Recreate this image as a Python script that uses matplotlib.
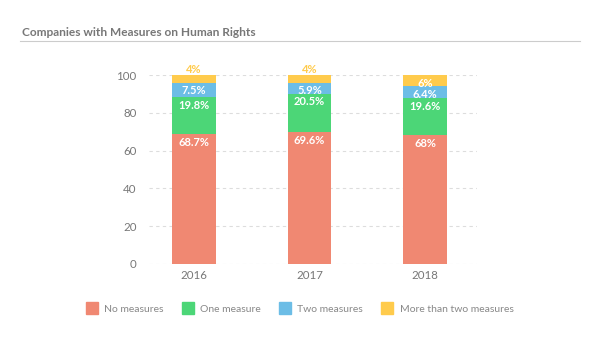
import matplotlib.pyplot as plt
import numpy as np

plt.rcParams['font.family'] = ['Lato', 'DejaVu Sans']

years = ['2016', '2017', '2018']
series_names = ['No measures', 'One measure', 'Two measures', 'More than two measures']
no_measures = [68.7, 69.6, 68]
one_measure = [19.8, 20.5, 19.6]
two_measures = [7.5, 5.9, 6.4]
more_measures = [4, 4, 6]
labels = [['68.7%', '69.6%', '68%'],
          ['19.8%', '20.5%', '19.6%'],
          ['7.5%', '5.9%', '6.4%'],
          ['4%', '4%', '6%']]
colors = ['#F08872', '#4CD677', '#6CBDE6', '#FFCB4C']

fig = plt.figure(figsize=(6, 3.5), dpi=100)
ax = fig.add_axes([149 / 600, 1 - 264 / 350, 328 / 600, 189 / 350])

x = np.arange(len(years))
data = [no_measures, one_measure, two_measures, more_measures]
bottom = np.zeros(len(years))
for k, vals in enumerate(data):
    vals = np.array(vals)
    ax.bar(x, vals, bottom=bottom, width=0.38, color=colors[k], zorder=3)
    tops = bottom + vals
    for i in range(len(years)):
        if vals[i] < 5:
            # small segment: label sits above the bar
            ax.annotate(labels[k][i], (x[i], tops[i]), xytext=(0, 0),
                        textcoords='offset points', ha='center', va='bottom',
                        color=colors[k], fontsize=8, fontweight='bold')
        else:
            ax.annotate(labels[k][i], (x[i], tops[i]), xytext=(0, -2),
                        textcoords='offset points', ha='center', va='top',
                        color='white', fontsize=8, fontweight='bold')
    bottom = tops

ax.set_xlim(-0.39, 2.45)
ax.set_ylim(0, 100)
ax.set_yticks([0, 20, 40, 60, 80, 100])
ax.set_xticks(x)
ax.set_xticklabels(years)
ax.yaxis.grid(True, linestyle=(0, (3, 3)), color='#dddddd', linewidth=0.8, zorder=0)
for s in ax.spines.values():
    s.set_visible(False)
ax.tick_params(length=0, colors='#777777', labelsize=8.3)
ax.tick_params(axis='y', pad=9)
ax.tick_params(axis='x', pad=4)

fig.text(22 / 600, 1 - 32 / 350, 'Companies with Measures on Human Rights',
         fontsize=8.6, fontweight='bold', color='#777777', va='center')
fig.add_artist(plt.Line2D([20 / 600, 580 / 600], [1 - 41 / 350, 1 - 41 / 350],
                          color='#cccccc', linewidth=0.8))

handles = [plt.Line2D([], [], marker='s', linestyle='none', markersize=9,
                      markerfacecolor=c, markeredgecolor=c) for c in colors]
fig.legend(handles, series_names, loc='center', bbox_to_anchor=(0.5, 1 - 309 / 350),
           ncol=4, frameon=False, fontsize=7.5, labelcolor='#888888',
           handletextpad=0.7, columnspacing=1.8, handlelength=1.0)

fig.savefig('out.png', dpi=100)
